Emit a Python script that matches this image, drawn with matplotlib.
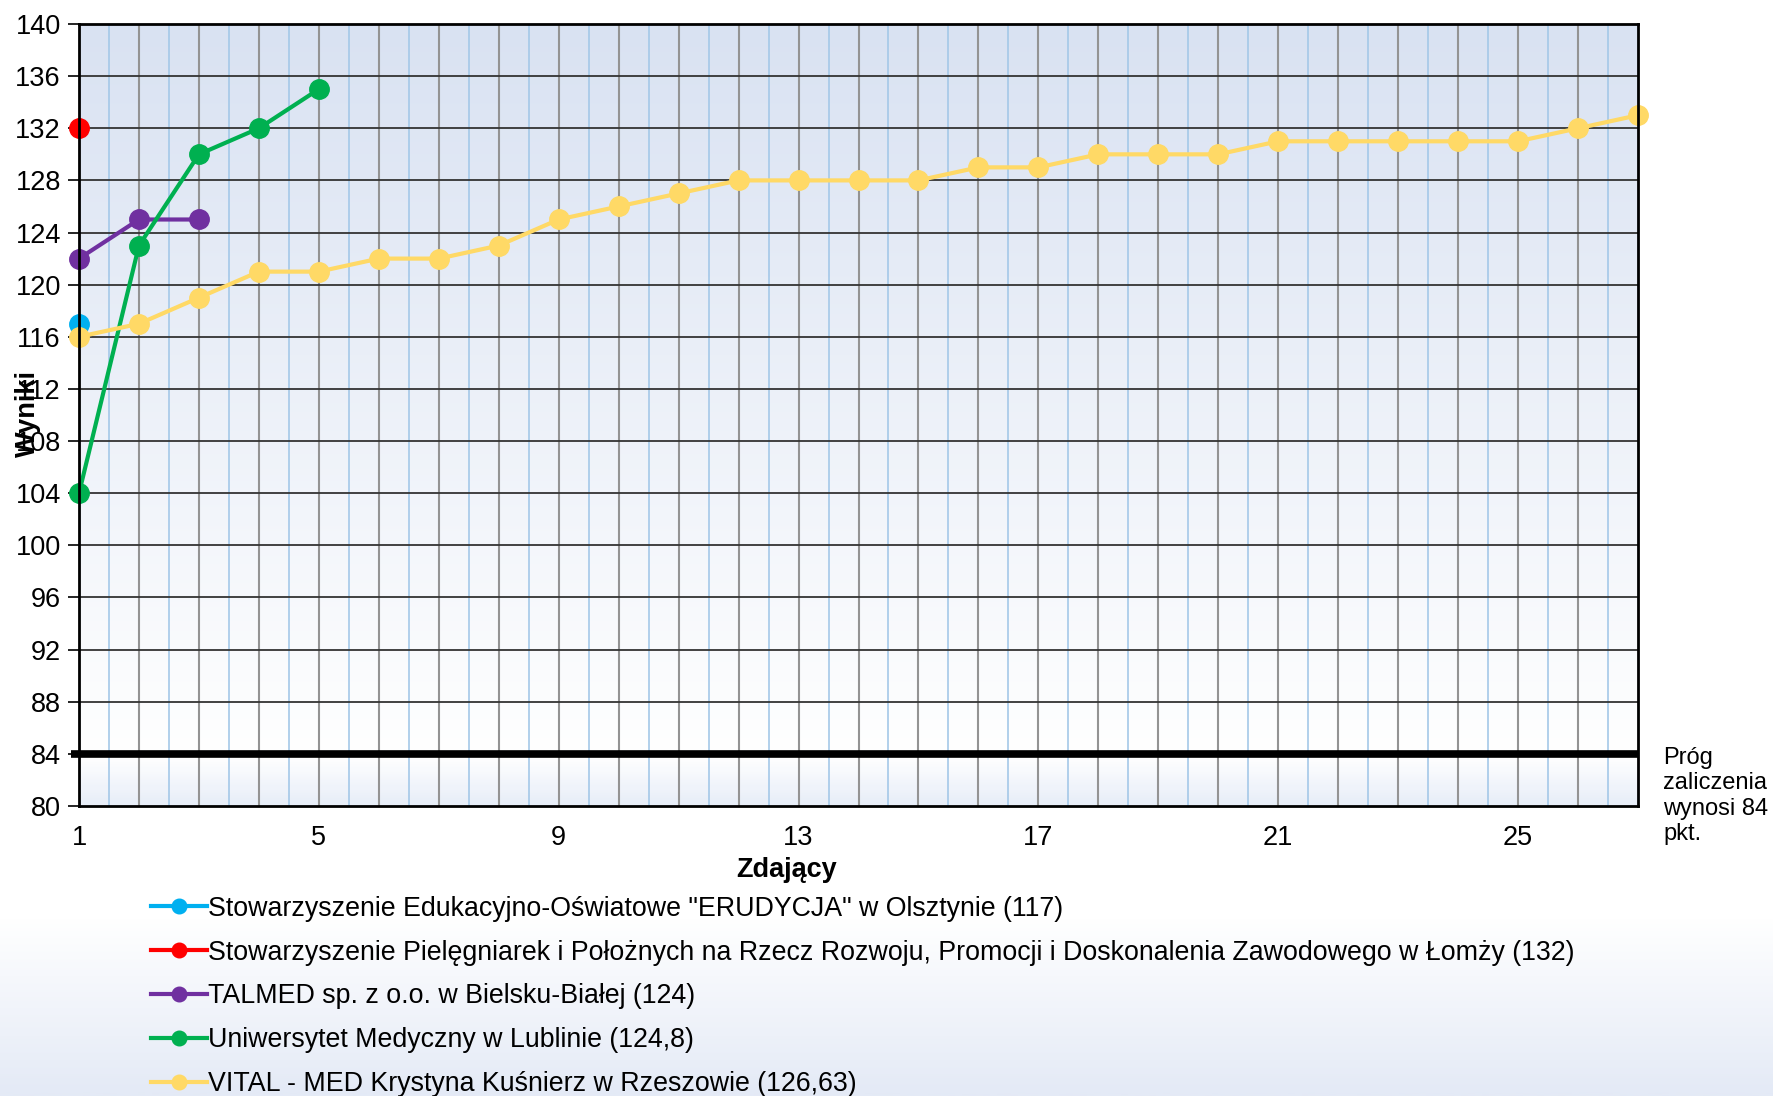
import matplotlib
matplotlib.use("Agg")
import matplotlib.pyplot as plt
import numpy as np
from matplotlib.colors import LinearSegmentedColormap

plt.rcParams['font.family'] = ['Liberation Sans', 'DejaVu Sans']

labels = [
    'Stowarzyszenie Edukacyjno-Oświatowe "ERUDYCJA" w Olsztynie (117)',
    'Stowarzyszenie Pielęgniarek i Położnych na Rzecz Rozwoju, Promocji i Doskonalenia Zawodowego w Łomży (132)',
    'TALMED sp. z o.o. w Bielsku-Białej (124)',
    'Uniwersytet Medyczny w Lublinie (124,8)',
    'VITAL - MED Krystyna Kuśnierz w Rzeszowie (126,63)',
]
erudycja = [117]
lomza = [132]
talmed = [122, 125, 125]
lublin = [104, 123, 130, 132, 135]
vital = [116, 117, 119, 121, 121, 122, 122, 123, 125, 126, 127, 128, 128, 128, 128,
         129, 129, 130, 130, 130, 131, 131, 131, 131, 131, 132, 133]
colors = ['#00b0f0', '#ff0000', '#7030a0', '#00b050', '#ffd966']
series = [erudycja, lomza, talmed, lublin, vital]
threshold = 84
yticks = list(range(80, 141, 4))
xticks = [1, 5, 9, 13, 17, 21, 25]

fig = plt.figure(figsize=(17.73, 10.96), dpi=100)

# figure background gradient
bg = fig.add_axes([0, 0, 1, 1], zorder=-10)
bg.axis('off')
yy = np.linspace(0, 1, 400)
fcmap = LinearSegmentedColormap.from_list('f', [(0, '#e4eaf6'), (0.16, '#ffffff'), (1, '#ffffff')])
bg.imshow(yy[:, None], cmap=fcmap, aspect='auto', extent=[0, 1, 0, 1], origin='lower')
bg.set_xlim(0, 1); bg.set_ylim(0, 1)

ax = fig.add_axes([79/1773, 1 - 806/1096, (1638-79)/1773, (806-24)/1096])
ax.set_xlim(1, 27)
ax.set_ylim(80, 140)

acmap = LinearSegmentedColormap.from_list('a', [(0, '#e8eef8'), (0.06, '#ffffff'), (1, '#d9e2f2')])
ax.imshow(np.linspace(0, 1, 300)[:, None], cmap=acmap, aspect='auto',
          extent=[1, 27, 80, 140], origin='lower', zorder=0)

# grid
for x in np.arange(1.5, 27, 1.0):
    ax.axvline(x, color='#a4c8e8', lw=1.2, zorder=1)
for x in range(2, 27):
    ax.axvline(x, color='#939393', lw=1.5, zorder=1)
for y in yticks[1:-1]:
    ax.axhline(y, color='#333333', lw=1.3, zorder=1)

ax.plot([0.87, 27], [threshold, threshold], color='black', lw=5.5, zorder=2,
        clip_on=False, solid_capstyle='butt')

handles = []
for s, c, lab in zip(series, colors, labels):
    xs = np.arange(1, len(s) + 1)
    h, = ax.plot(xs, s, color=c, lw=3, marker='o', ms=14, zorder=5, clip_on=False, label=lab)
    handles.append(h)

ax.set_xticks(xticks)
ax.set_yticks(yticks)
ax.tick_params(axis='y', direction='out', length=8, width=1.2, labelsize=19.5, pad=5)
ax.tick_params(axis='x', length=0, labelsize=19.5, pad=14)
for sp in ax.spines.values():
    sp.set_linewidth(2)
    sp.set_zorder(6)

ax.set_xlabel('Zdający', fontsize=19.5, fontweight='bold', labelpad=2)
ax.xaxis.set_label_coords((695 - 69) / (1448 - 69), -0.065)
fig.text(28/1773, 1 - 413/1096, 'Wyniki', rotation=90, fontsize=19.5, fontweight='bold',
         ha='center', va='center')

fig.text(1663/1773, 1 - 796/1096, 'Próg\nzaliczenia\nwynosi 84\npkt.', fontsize=17,
         ha='left', va='center', linespacing=1.2)

leg = fig.legend(handles=handles, loc='upper left', bbox_to_anchor=(140/1773, 1 - 885/1096),
                 frameon=False, fontsize=19.3, handlelength=2.1, handletextpad=0.05,
                 labelspacing=0.665, borderaxespad=0, markerscale=0.75)

fig.savefig('out.png', dpi=100)
